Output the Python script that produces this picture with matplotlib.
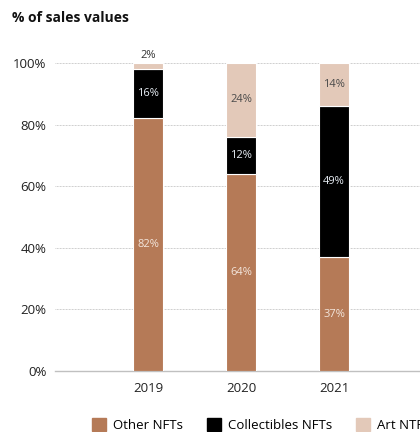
import numpy as np
import matplotlib
matplotlib.use("Agg")
from matplotlib import pyplot as plt
from matplotlib.patches import Patch

plt.rcParams['font.family'] = ['Open Sans', 'DejaVu Sans']

years = ['2019', '2020', '2021']
other_nfts = [82, 64, 37]
collectibles_nfts = [16, 12, 49]
art_nfts = [2, 24, 14]

c_other = '#b57a57'
c_coll = '#000000'
c_art = '#e3c9b9'

fig = plt.figure(figsize=(4.2, 4.32), dpi=100)
ax = fig.add_axes([55/420, 1 - 371/432, 1 - 55/420, 308/432])

x = np.arange(len(years))
w = 0.32
other = np.array(other_nfts)
coll = np.array(collectibles_nfts)
art = np.array(art_nfts)

ax.bar(x, other, w, color=c_other, edgecolor='white', linewidth=0.8, zorder=3)
ax.bar(x, coll, w, bottom=other, color=c_coll, edgecolor='white', linewidth=0.8, zorder=3)
ax.bar(x, art, w, bottom=other + coll, color=c_art, edgecolor='white', linewidth=0.8, zorder=3)

# value labels
for i in range(len(years)):
    ax.text(x[i], other[i] / 2, f'{other[i]}%', ha='center', va='center',
            color='#f3e6dc', fontsize=8, zorder=4)
    ax.text(x[i], other[i] + coll[i] / 2, f'{coll[i]}%', ha='center', va='center',
            color='#e8eef5', fontsize=8, zorder=4)
    if art[i] < 5:
        ax.text(x[i], 100 + 0.6, f'{art[i]}%', ha='center', va='bottom',
                color='#333333', fontsize=8, zorder=4)
    else:
        ax.text(x[i], other[i] + coll[i] + art[i] / 2, f'{art[i]}%', ha='center',
                va='center', color='#4a4a4a', fontsize=8, zorder=4)

ax.set_xlim(-1.0, 2.925)
ax.set_ylim(0, 100)
ax.set_xticks(x)
ax.set_xticklabels(years, fontsize=9.5, color='#222222')
ax.set_yticks(range(0, 101, 20))
ax.set_yticklabels([f'{v}%' for v in range(0, 101, 20)], fontsize=9.5, color='#222222')
ax.tick_params(length=0, pad=6)
ax.tick_params(axis='x', pad=8)

for s in ['top', 'right', 'left']:
    ax.spines[s].set_visible(False)
ax.spines['bottom'].set_color('#c0c0c0')
ax.spines['bottom'].set_linewidth(1.0)

for v in range(20, 101, 20):
    ax.axhline(v, color='#bdbdbd', linestyle=(0, (1, 0.8)), linewidth=0.6, zorder=1)

fig.text(12/420, 1 - 18/432, '% of sales values', fontsize=10, fontweight='bold',
         color='#111111', va='center', ha='left')

handles = [Patch(color=c_other), Patch(color=c_coll), Patch(color=c_art)]
fig.legend(handles, ['Other NFTs', 'Collectibles NFTs', 'Art NTFs'],
           loc='center left', bbox_to_anchor=(80/420, 1 - 425/432), ncol=3,
           frameon=False, fontsize=9.5, handlelength=1.1, handleheight=1.1,
           columnspacing=1.8, handletextpad=0.5)

plt.savefig('out.png', dpi=100)
